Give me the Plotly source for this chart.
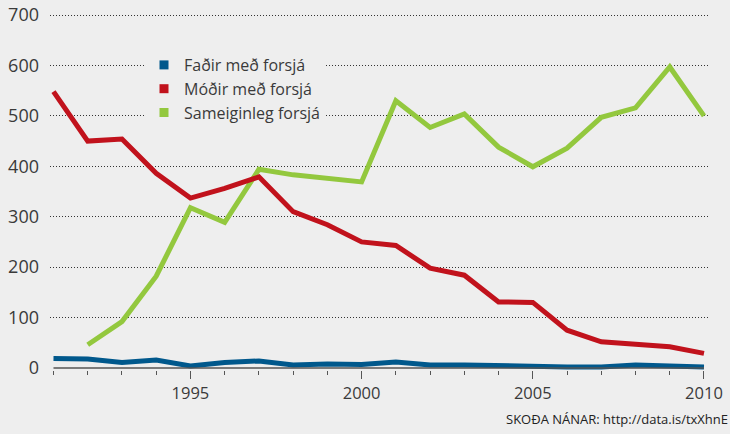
import plotly.graph_objects as go

years = list(range(1991, 2011))
fadir = [19, 18, 11, 16, 4, 11, 14, 6, 8, 7, 12, 6, 6, 4, 4, 2, 2, 6, 4, 2]
modir = [548, 450, 454, 386, 337, 356, 379, 310, 284, 250, 243, 198, 184, 131, 130, 75, 52, 47, 42, 29]
sameig = [None, 46, 92, 182, 318, 289, 394, 383, 376, 369, 530, 477, 504, 438, 399, 436, 497, 516, 597, 500]

names = ["Faðir með forsjá", "Móðir með forsjá", "Sameiginleg forsjá"]
colors = ["#00588c", "#c1121c", "#93c83e"]

x_tickvals = [1995, 2000, 2005, 2010]
y_tickvals = [0, 100, 200, 300, 400, 500, 600, 700]
source_text = "SKOÐA NÁNAR: http://data.is/txXhnE"

BG = "#eeeeee"
FONT = "'Open Sans', sans-serif"
W, H = 730, 434
ML, MR, MT, MB = 50, 22, 14, 64
PW, PH = W - ML - MR, H - MT - MB

fig = go.Figure()
for name, col, vals in [(names[2], colors[2], sameig), (names[1], colors[1], modir), (names[0], colors[0], fadir)]:
    fig.add_trace(go.Scatter(x=years, y=vals, mode="lines", name=name,
                             line=dict(color=col, width=5), showlegend=False,
                             hoverinfo="skip"))
for name, col in zip(names, colors):
    fig.add_trace(go.Scatter(x=[None], y=[None], mode="markers", name=name,
                             marker=dict(color=col, symbol="square", size=9,
                                         line=dict(width=0))))

fig.add_shape(type="line", xref="x", yref="y", x0=years[0], x1=years[-1], y0=0, y1=0,
              line=dict(color="#555555", width=1.5), layer="above")

fig.update_layout(
    width=W, height=H,
    margin=dict(l=ML, r=MR, t=MT, b=MB, autoexpand=False),
    paper_bgcolor=BG, plot_bgcolor=BG,
    font=dict(family=FONT, color="#3a3a3a"),
    showlegend=True,
    legend=dict(x=(144 - ML) / PW, y=(H - MB - 48) / PH, xanchor="left", yanchor="top",
                bgcolor=BG, font=dict(size=16, color="#3a3a3a"),
                itemwidth=30, tracegroupgap=0),
    xaxis=dict(range=[1990.898, 2010.117], tickvals=x_tickvals, automargin=False,
               ticks="outside", ticklen=8, tickcolor="#555555", tickwidth=1,
               showgrid=False, zeroline=False, showline=False,
               tickfont=dict(size=16.5, color="#3a3a3a"),
               minor=dict(dtick=1, tick0=1991, ticks="outside", ticklen=4,
                          tickcolor="#555555", tickwidth=1, showgrid=False)),
    yaxis=dict(range=[-4, 702], tickvals=y_tickvals, automargin=False,
               showgrid=True, gridcolor="#333333", gridwidth=1, griddash="1px,2px",
               zeroline=True, zerolinecolor="rgba(0,0,0,0)", showline=False,
               ticks="", ticklabelstandoff=10,
               tickfont=dict(size=18, color="#3a3a3a")),
    annotations=[dict(text=source_text, xref="paper", yref="paper",
                      x=(730 - ML) / PW, y=(H - MB - 419) / PH,
                      xanchor="right", yanchor="middle", showarrow=False,
                      font=dict(size=13, color="#222222", family=FONT))],
)

fig.write_html("out.html", config={"displayModeBar": False},
               post_script="document.body.style.margin='0';")
